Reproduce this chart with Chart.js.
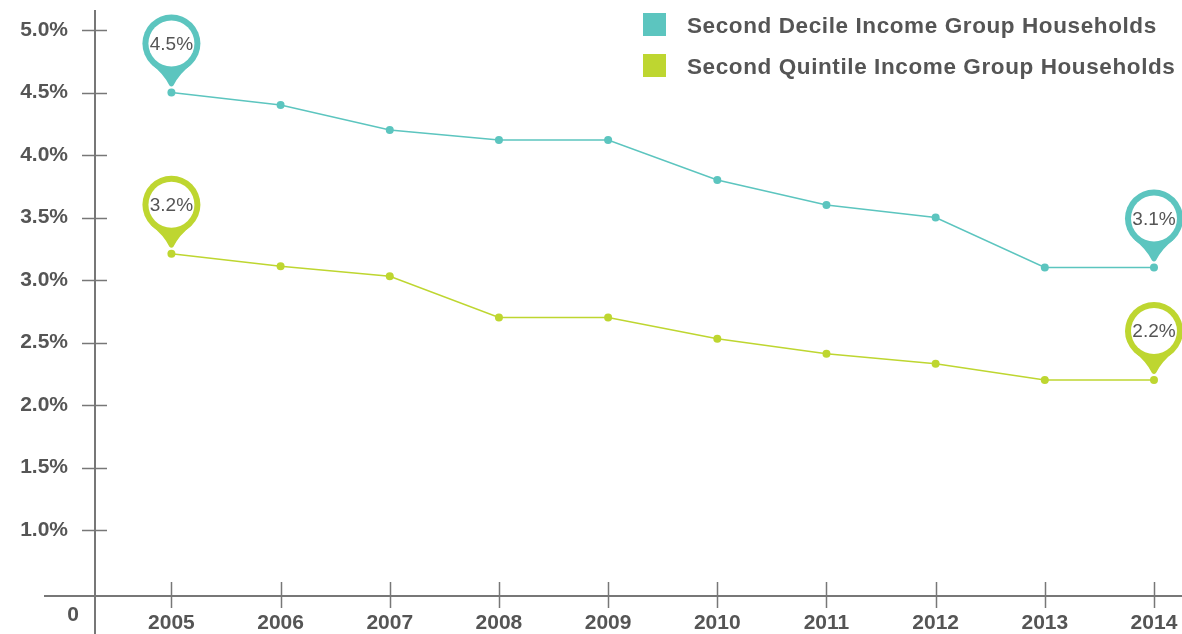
<!DOCTYPE html>
<html>
<head>
<meta charset="utf-8">
<script src="https://cdn.jsdelivr.net/npm/chart.js@4/dist/chart.umd.min.js"></script>
<style>
  html, body { margin: 0; padding: 0; background: #fff; overflow: hidden; }
  #wrap { position: relative; width: 1182px; height: 634px; }
  #chart { display: block; }
  #legend { position: absolute; left: 643px; top: 13px; font: bold 22.5px "Liberation Sans", Arial, sans-serif; letter-spacing: 0.6px; color: #555; white-space: nowrap; }
  #legend div { height: 41px; display: flex; align-items: flex-start; }
  #legend span.sw { display: inline-block; width: 23px; height: 23px; margin-right: 21px; }
  #legend span.tx { line-height: 25px; }
</style>
</head>
<body>
<div id="wrap">
  <canvas id="chart" width="1182" height="634"></canvas>
  <div id="legend"></div>
</div>
<script>
// data
const years = [2005, 2006, 2007, 2008, 2009, 2010, 2011, 2012, 2013, 2014];
const decileShare = [4.5, 4.4, 4.2, 4.12, 4.12, 3.8, 3.6, 3.5, 3.1, 3.1];
const quintileShare = [3.21, 3.11, 3.03, 2.7, 2.7, 2.53, 2.41, 2.33, 2.2, 2.2];
const seriesNames = ["Second Decile Income Group Households", "Second Quintile Income Group Households"];
const yTickValues = [1.0, 1.5, 2.0, 2.5, 3.0, 3.5, 4.0, 4.5, 5.0];

const TEAL = "#5cc5bf";
const LIME = "#bed630";
const TEXT = "#555";
const AXIS = "#777";
const FONT = '"Liberation Sans", Arial, sans-serif';

// legend (html)
const legendEl = document.getElementById("legend");
[TEAL, LIME].forEach((c, i) => {
    const row = document.createElement("div");
    row.innerHTML = '<span class="sw" style="background:' + c + '"></span><span class="tx">' + seriesNames[i] + '</span>';
    legendEl.appendChild(row);
});

// axis lines, crossing ticks, the "0" label and pin markers
const decorPlugin = {
    id: "decor",
    beforeDatasetsDraw(chart) {
        const ctx = chart.ctx;
        const xs = chart.scales.x, ys = chart.scales.y;
        const ca = chart.chartArea;
        ctx.save();
        ctx.strokeStyle = AXIS;
        ctx.lineWidth = 2;
        ctx.beginPath();
        ctx.moveTo(44, ca.bottom);
        ctx.lineTo(chart.width, ca.bottom);
        ctx.moveTo(ca.left, ca.top);
        ctx.lineTo(ca.left, chart.height);
        ctx.stroke();

        ctx.lineWidth = 1.5;
        ctx.beginPath();
        yTickValues.forEach(v => {
            const py = Math.round(ys.getPixelForValue(v)) + 0.5;
            ctx.moveTo(ca.left - 13, py);
            ctx.lineTo(ca.left + 12, py);
        });
        years.forEach(yr => {
            const px = Math.round(xs.getPixelForValue(yr)) + 0.5;
            ctx.moveTo(px, ca.bottom - 14);
            ctx.lineTo(px, ca.bottom + 12);
        });
        ctx.stroke();

        ctx.fillStyle = TEXT;
        ctx.font = "bold 21px " + FONT;
        ctx.textAlign = "center";
        ctx.textBaseline = "middle";
        ctx.fillText("0", ca.left - 22, ca.bottom + 19);
        ctx.restore();
    },
    afterDatasetsDraw(chart) {
        const ctx = chart.ctx;
        chart.data.datasets.forEach((ds, di) => {
            const meta = chart.getDatasetMeta(di);
            const n = meta.data.length;
            [0, n - 1].forEach(idx => {
                const pt = meta.data[idx];
                drawPin(ctx, pt.x, pt.y, ds.borderColor, ds.data[idx].y.toFixed(1) + "%");
            });
        });
    }
};

function drawPin(ctx, px, py, color, label) {
    const R = 29, r = 23;
    const cx = px, cy = py - 49;
    const tipY = py - 6;
    ctx.save();
    ctx.fillStyle = color;
    ctx.beginPath();
    ctx.arc(cx, cy, R, 0, Math.PI * 2);
    ctx.fill();
    ctx.beginPath();
    ctx.moveTo(cx - 20, cy + 21);
    ctx.lineTo(cx + 20, cy + 21);
    ctx.quadraticCurveTo(cx + 8, cy + 30, cx + 2, tipY - 1);
    ctx.quadraticCurveTo(cx, tipY + 1, cx - 2, tipY - 1);
    ctx.quadraticCurveTo(cx - 8, cy + 30, cx - 20, cy + 21);
    ctx.closePath();
    ctx.fill();
    ctx.fillStyle = "#fff";
    ctx.beginPath();
    ctx.arc(cx, cy, r, 0, Math.PI * 2);
    ctx.fill();
    ctx.fillStyle = TEXT;
    ctx.font = "19px " + FONT;
    ctx.textAlign = "center";
    ctx.textBaseline = "middle";
    ctx.fillText(label, cx, cy + 1);
    ctx.restore();
}

function noEdgePadding(scale) {
    scale.paddingTop = 0;
    scale.paddingBottom = 0;
    scale.paddingLeft = 0;
    scale.paddingRight = 0;
}

new Chart(document.getElementById("chart"), {
    type: "line",
    data: {
        datasets: [
            {
                label: seriesNames[0],
                data: years.map((yr, i) => ({ x: yr, y: decileShare[i] })),
                borderColor: TEAL,
                backgroundColor: TEAL,
            },
            {
                label: seriesNames[1],
                data: years.map((yr, i) => ({ x: yr, y: quintileShare[i] })),
                borderColor: LIME,
                backgroundColor: LIME,
            }
        ]
    },
    options: {
        responsive: false,
        animation: false,
        layout: { padding: { top: 10, right: 0, left: 0, bottom: 0 } },
        elements: {
            line: { borderWidth: 1.5, tension: 0 },
            point: { radius: 4, borderWidth: 0 }
        },
        plugins: {
            legend: { display: false },
            tooltip: { enabled: false }
        },
        scales: {
            x: {
                type: "linear",
                min: 2004.3,
                max: 2014.22,
                afterBuildTicks: (scale) => { scale.ticks = years.map(v => ({ value: v })); },
                afterFit: (scale) => { scale.height = 38; noEdgePadding(scale); },
                border: { display: false },
                grid: { display: false, drawTicks: false },
                ticks: {
                    padding: 15,
                    maxRotation: 0,
                    color: TEXT,
                    font: { family: FONT, size: 21, weight: "bold" },
                    callback: (v) => String(v)
                }
            },
            y: {
                min: 0.472,
                max: 5.16,
                afterBuildTicks: (scale) => { scale.ticks = yTickValues.map(v => ({ value: v })); },
                afterFit: (scale) => { scale.width = 95; noEdgePadding(scale); },
                border: { display: false },
                grid: { display: false, drawTicks: false },
                ticks: {
                    padding: 27,
                    color: TEXT,
                    font: { family: FONT, size: 21, weight: "bold" },
                    callback: (v) => v.toFixed(1) + "%"
                }
            }
        }
    },
    plugins: [decorPlugin]
});
</script>
</body>
</html>
